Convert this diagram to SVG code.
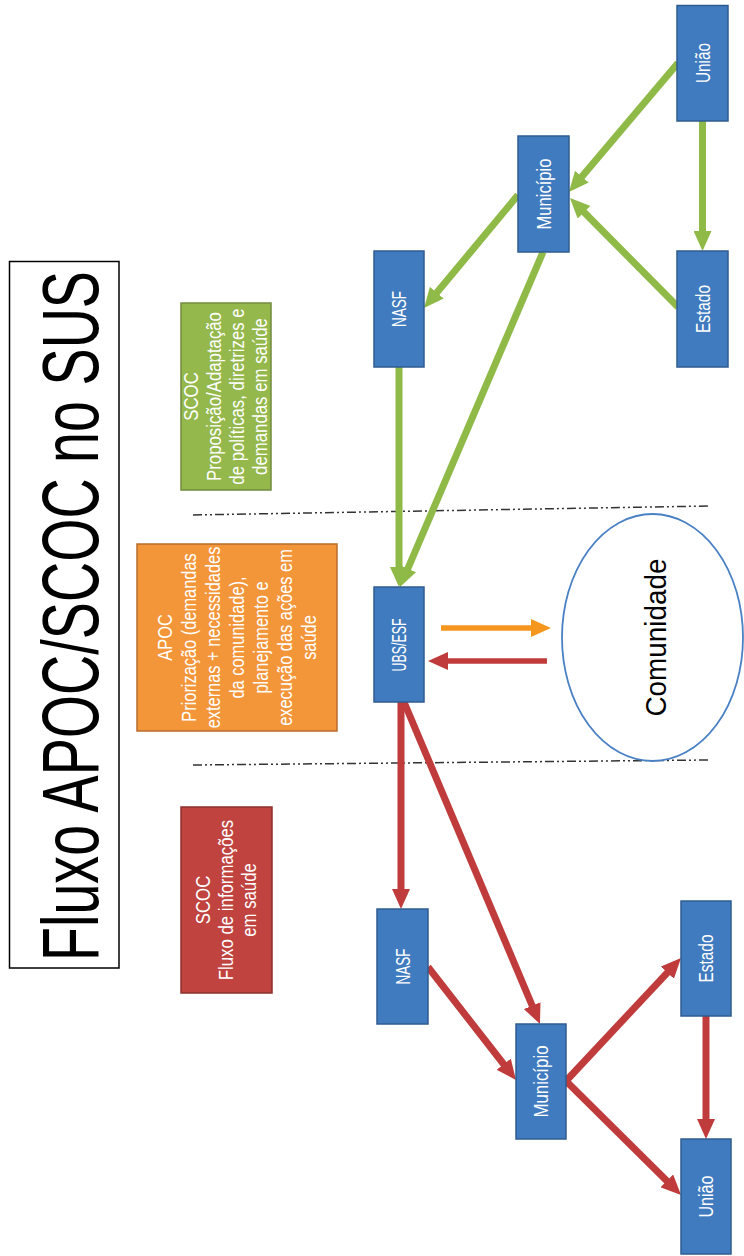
<svg xmlns="http://www.w3.org/2000/svg" width="744" height="1256" viewBox="0 0 744 1256">
<style>
.node rect{fill:#3f7bbe;stroke:#2f5c8f;stroke-width:1.5}
.node text{font-family:"Liberation Sans",Arial,sans-serif;font-size:20px;fill:#ffffff;text-anchor:middle}
.box text{font-family:"Liberation Sans",Arial,sans-serif;font-size:20px;fill:#ffffff;text-anchor:middle}
.g{stroke:#8fba48;stroke-width:7;fill:none;marker-end:url(#ag)}
.r{stroke:#c03b3b;stroke-width:7;fill:none;marker-end:url(#ar)}
.o{stroke:#f5961e;stroke-width:5.5;fill:none;marker-end:url(#ao)}
.rh{stroke:#c03b3b;stroke-width:5.5;fill:none;marker-end:url(#ar)}
.sep{stroke:#333;stroke-width:1.5;stroke-dasharray:9 3 2 3 2 3;fill:none}
</style>
<defs>
<marker id="ag" markerUnits="userSpaceOnUse" viewBox="0 0 20 18" markerWidth="20" markerHeight="18" refX="8" refY="9" orient="auto"><path d="M0,0 L20,9 L0,18 z" fill="#8fba48"/></marker>
<marker id="ar" markerUnits="userSpaceOnUse" viewBox="0 0 20 18" markerWidth="20" markerHeight="18" refX="8" refY="9" orient="auto"><path d="M0,0 L20,9 L0,18 z" fill="#c03b3b"/></marker>
<marker id="ao" markerUnits="userSpaceOnUse" viewBox="0 0 20 18" markerWidth="20" markerHeight="18" refX="8" refY="9" orient="auto"><path d="M0,0 L20,9 L0,18 z" fill="#f5961e"/></marker>
</defs>
<rect width="744" height="1256" fill="#ffffff"/>

<g id="title">
<rect x="9.5" y="261.5" width="109.5" height="706.5" fill="#ffffff" stroke="#000000" stroke-width="1.5"/>
<text transform="translate(98,616) rotate(-90) scale(1,1.45)" font-family="Liberation Sans,Arial,sans-serif" font-size="55" text-anchor="middle" textLength="690" lengthAdjust="spacingAndGlyphs" fill="#000000">Fluxo APOC/SCOC no SUS</text>
</g>

<g id="separators">
<path class="sep" d="M193,515 L708,506"/>
<path class="sep" d="M193,765 L708,760"/>
</g>

<g id="scoc-green" class="box">
<rect x="181" y="303" width="90" height="187" fill="#94b84c" stroke="#728a3e" stroke-width="1.5"/>
<text transform="translate(198,396.5) rotate(-90) scale(0.84,1)"><tspan x="0" dy="0">SCOC</tspan><tspan x="0" dy="23">Proposição/Adaptação</tspan><tspan x="0" dy="23">de políticas, diretrizes e</tspan><tspan x="0" dy="23">demandas em saúde</tspan></text>
</g>

<g id="apoc-orange" class="box">
<rect x="137" y="544" width="200" height="187" fill="#f39539" stroke="#b86d2c" stroke-width="1.5"/>
<text transform="translate(172,637.5) rotate(-90) scale(0.82,1)"><tspan x="0" dy="0">APOC</tspan><tspan x="0" dy="24">Priorização (demandas</tspan><tspan x="0" dy="24">externas + necessidades</tspan><tspan x="0" dy="24">da comunidade),</tspan><tspan x="0" dy="24">planejamento e</tspan><tspan x="0" dy="24">execução das ações em</tspan><tspan x="0" dy="24">saúde</tspan></text>
</g>

<g id="scoc-red" class="box">
<rect x="181" y="807" width="91" height="186" fill="#c0433f" stroke="#8c302e" stroke-width="1.5"/>
<text transform="translate(210,900) rotate(-90) scale(0.84,1)"><tspan x="0" dy="0">SCOC</tspan><tspan x="0" dy="23">Fluxo de informações</tspan><tspan x="0" dy="23">em saúde</tspan></text>
</g>

<g id="connectors">
<path class="g" d="M678,63 L576.7,182.8"/>
<path class="g" d="M702.5,121 L702.5,239"/>
<path class="g" d="M678,307 L578.4,206.5"/>
<path class="g" d="M518,195 L431.7,298.8"/>
<path class="g" d="M543,252 L404.7,576"/>
<path class="g" d="M399,367 L399,575"/>
<path class="r" d="M401,702 L401,897"/>
<path class="r" d="M404,702 L535.3,1013"/>
<path class="r" d="M428,967 L508.6,1070.5"/>
<path class="r" d="M566,1081 L672.8,966.8"/>
<path class="r" d="M566,1081 L672.5,1186.5"/>
<path class="r" d="M706,1016 L706,1127"/>
<path class="o" d="M441,628 L539,628"/>
<path class="rh" d="M547,661 L440,661"/>
</g>

<g id="uniao-top" class="node"><rect x="677" y="5.5" width="51" height="115.5"/><text transform="translate(710,63) rotate(-90)" textLength="40" lengthAdjust="spacingAndGlyphs">União</text></g>
<g id="municipio-top" class="node"><rect x="518" y="136" width="51" height="116"/><text transform="translate(551,194) rotate(-90)" textLength="71" lengthAdjust="spacingAndGlyphs">Município</text></g>
<g id="nasf-top" class="node"><rect x="374" y="251" width="50" height="116"/><text transform="translate(406,309) rotate(-90)" textLength="36" lengthAdjust="spacingAndGlyphs">NASF</text></g>
<g id="estado-top" class="node"><rect x="677" y="251" width="51" height="116"/><text transform="translate(710,309) rotate(-90)" textLength="48" lengthAdjust="spacingAndGlyphs">Estado</text></g>
<g id="ubs-esf" class="node"><rect x="374" y="587" width="50" height="115"/><text transform="translate(406,645) rotate(-90)" textLength="53" lengthAdjust="spacingAndGlyphs">UBS/ESF</text></g>
<g id="nasf-bottom" class="node"><rect x="377" y="909" width="51" height="115"/><text transform="translate(410,966.5) rotate(-90)" textLength="36" lengthAdjust="spacingAndGlyphs">NASF</text></g>
<g id="municipio-bottom" class="node"><rect x="516" y="1024" width="50" height="115"/><text transform="translate(548,1081.5) rotate(-90)" textLength="72" lengthAdjust="spacingAndGlyphs">Município</text></g>
<g id="estado-bottom" class="node"><rect x="681" y="901" width="50" height="115"/><text transform="translate(713,958.5) rotate(-90)" textLength="48" lengthAdjust="spacingAndGlyphs">Estado</text></g>
<g id="uniao-bottom" class="node"><rect x="681" y="1139" width="50" height="115"/><text transform="translate(713,1196.5) rotate(-90)" textLength="42" lengthAdjust="spacingAndGlyphs">União</text></g>

<g id="comunidade">
<ellipse cx="652.5" cy="637.5" rx="90.5" ry="123.5" fill="#ffffff" stroke="#4a80c4" stroke-width="1.8"/>
<text transform="translate(666,637.5) rotate(-90)" font-family="Liberation Sans,Arial,sans-serif" font-size="30" text-anchor="middle" textLength="158" lengthAdjust="spacingAndGlyphs" fill="#000000">Comunidade</text>
</g>
</svg>
